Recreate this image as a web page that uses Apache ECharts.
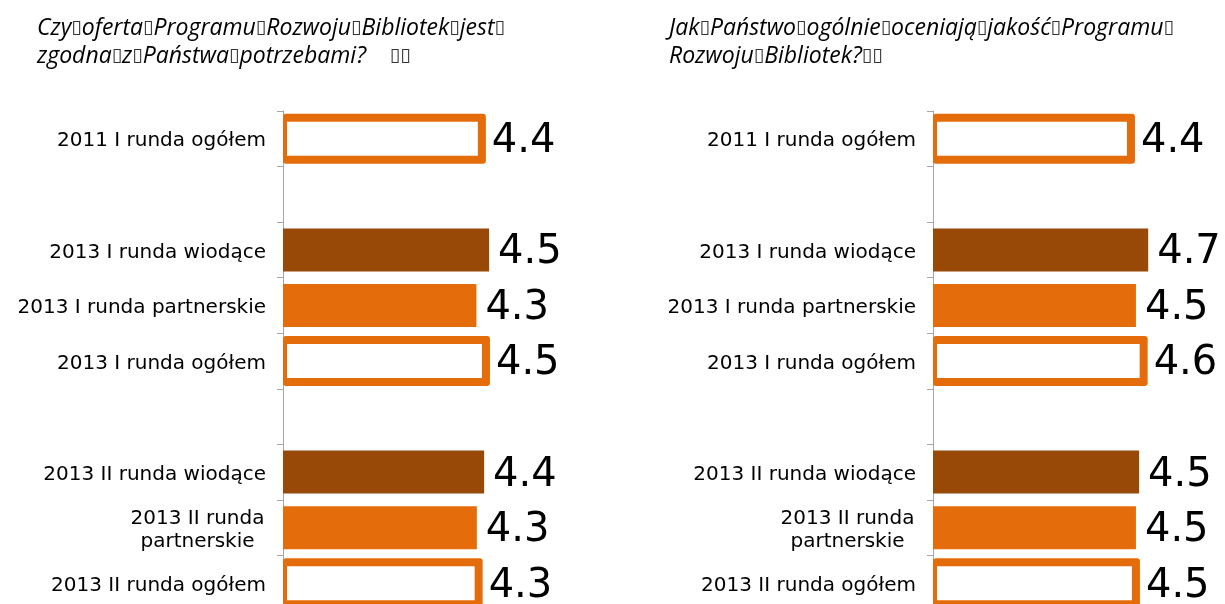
<!DOCTYPE html>
<html>
<head>
<meta charset="utf-8">
<script src="https://cdn.jsdelivr.net/npm/echarts@6/dist/echarts.min.js"></script>
<style>
html,body{margin:0;padding:0;background:#fff;}
#chart{width:1225px;height:604px;}
</style>
</head>
<body>
<div id="chart"></div>
<script>
// ---- data ----
const categories = [
  '2011 I runda ogółem',
  ' ',
  '2013 I runda wiodące',
  '2013 I runda partnerskie',
  '2013 I runda ogółem',
  '  ',
  '2013 II runda wiodące',
  '2013 II runda\npartnerskie',
  '2013 II runda ogółem'
];
const offerValues   = [4.38, null, 4.54, 4.26, 4.47, null, 4.43, 4.27, 4.31];
const qualityValues = [4.36, null, 4.74, 4.47, 4.64, null, 4.54, 4.47, 4.47];
const B = '{b|\u25AF}';
const titleLeft  = 'Czy' + B + 'oferta' + B + 'Programu' + B + 'Rozwoju' + B + 'Bibliotek' + B + 'jest' + B + '\nzgodna' + B + 'z' + B + 'Państwa' + B + 'potrzebami?    ' + B + B;
const titleRight = 'Jak' + B + 'Państwo' + B + 'ogólnie' + B + 'oceniają' + B + 'jakość' + B + 'Programu' + B + '\nRozwoju' + B + 'Bibliotek?' + B + B;

// ---- styling ----
const ORANGE = '#E46C0A';
const BROWN = '#984807';
const isTotal = cat => cat.indexOf('ogółem') >= 0;
function fillColor(cat) { return cat.indexOf('wiodące') >= 0 ? BROWN : ORANGE; }
function barData(values) {
  return values.map((v, i) => (v == null || isTotal(categories[i])) ? '-' : { value: v, itemStyle: { color: fillColor(categories[i]) } });
}
function outlineData(values) {
  return values.map((v, i) => [v, i]).filter(d => d[0] != null && isTotal(categories[d[1]]));
}

const gridTop = 111, gridHeight = 500, gridWidth = 227;
const catFont = { fontFamily: 'DejaVu Sans', fontSize: 20, color: '#000' };
const valFont = { fontFamily: 'DejaVu Sans', fontSize: 40 };

function yAxisFor(idx) {
  return {
    type: 'category', gridIndex: idx, inverse: true, data: categories,
    axisLine: { show: true, lineStyle: { color: '#A6A6A6', width: 1 } },
    axisTick: { show: true, length: 6, lineStyle: { color: '#A6A6A6' } },
    axisLabel: Object.assign({
      margin: 17,
      lineHeight: 23,
      padding: [5, 0, 0, 0],
      formatter: v => v.indexOf('\n') >= 0 ? v.split('\n').map(s => '{c|' + s + '}').join('\n') : v,
      rich: { c: Object.assign({ width: 137, align: 'center', lineHeight: 23 }, catFont) }
    }, catFont),
    splitLine: { show: false }
  };
}
function xAxisFor(idx) {
  return { type: 'value', gridIndex: idx, min: 0, max: 5, show: false, splitLine: { show: false } };
}
function barSeries(idx, values) {
  return {
    type: 'bar', xAxisIndex: idx, yAxisIndex: idx, barWidth: 43,
    data: barData(values),
    label: Object.assign({
      show: true, position: 'right', distance: 9, offset: [0, 3], color: '#000',
      formatter: p => Number(p.value).toFixed(1)
    }, valFont),
    emphasis: { disabled: true },
    animation: false
  };
}
function outlineSeries(idx, values) {
  return {
    type: 'custom', xAxisIndex: idx, yAxisIndex: idx,
    encode: { x: 0, y: 1 },
    data: outlineData(values),
    renderItem: (params, api) => {
      const v = api.value(0), c = api.value(1);
      const p0 = api.coord([0, c]), p1 = api.coord([v, c]);
      const half = 21, sw = 8, len = p1[0] - p0[0];
      return {
        type: 'group',
        children: [
          {
            type: 'rect',
            shape: { x: p0[0], y: p0[1] - half - sw / 2, width: len + sw / 2, height: 2 * half + sw, r: 3 },
            style: { fill: ORANGE },
            textContent: { style: Object.assign({ text: v.toFixed(1), fill: '#000' }, valFont) },
            textConfig: { position: 'right', distance: 6, offset: [0, 3] }
          },
          {
            type: 'rect',
            shape: { x: p0[0] + sw / 2, y: p0[1] - half + sw / 2, width: len - sw, height: 2 * half - sw },
            style: { fill: '#fff' }
          }
        ]
      };
    },
    animation: false
  };
}
const titleStyle = {
  fontFamily: 'Open Sans', fontStyle: 'italic', fontWeight: 'normal', fontSize: 23, lineHeight: 28, color: '#000',
  rich: { b: { fontFamily: 'DejaVu Sans', fontSize: 19, lineHeight: 28, color: '#333' } }
};

const chart = echarts.init(document.getElementById('chart'), null, { renderer: 'canvas' });
chart.setOption({
  animation: false,
  backgroundColor: '#fff',
  title: [
    { text: titleLeft, left: 32, top: 9, textStyle: titleStyle },
    { text: titleRight, left: 664, top: 9, textStyle: titleStyle }
  ],
  grid: [
    { left: 283, top: gridTop, width: gridWidth, height: gridHeight, containLabel: false, outerBoundsMode: 'none' },
    { left: 933, top: gridTop, width: gridWidth, height: gridHeight, containLabel: false, outerBoundsMode: 'none' }
  ],
  xAxis: [xAxisFor(0), xAxisFor(1)],
  yAxis: [yAxisFor(0), yAxisFor(1)],
  series: [barSeries(0, offerValues), outlineSeries(0, offerValues), barSeries(1, qualityValues), outlineSeries(1, qualityValues)]
});
</script>
</body>
</html>
